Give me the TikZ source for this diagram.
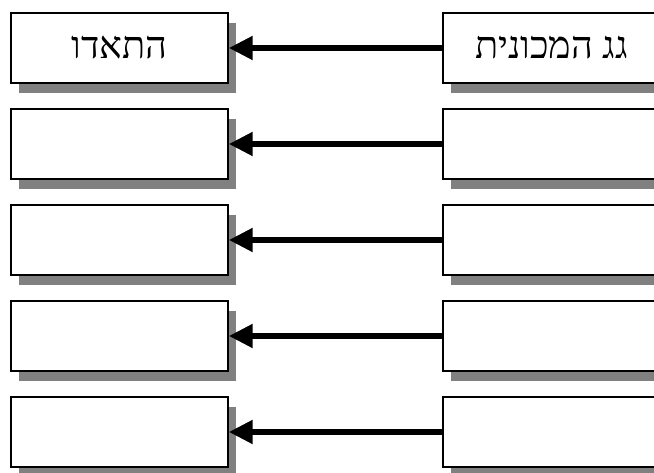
\documentclass[tikz,border=0pt]{standalone}
\usepackage{fontspec}
\setmainfont{Liberation Serif}
\newfontfamily\hebfont[Script=Hebrew]{Liberation Serif}
\TeXXeTstate=1
\usetikzlibrary{shapes,calc,shadows,arrows.meta}

\begin{document}
\begin{tikzpicture}[x=0.75pt,y=-0.75pt]
			\tikzstyle{wbox}=[rectangle, draw, line width=1.1pt, fill=white, minimum width=162.75pt, minimum height=52.5pt, inner sep=0pt, font=\hebfont\fontsize{28.5}{32}\selectfont, drop shadow={shadow xshift=6pt, shadow yshift=-7.5pt, fill=gray, opacity=1}]
			\tikzstyle{link}=[line width=5.2pt, -{Triangle[length=18pt,width=17pt]}]
			\useasboundingbox (0,0) rectangle (654,473);
			\clip (0,0) rectangle (654,473);
			\node[wbox] (l1) at (119.5,48) {\beginR התאדו\endR};
			\node[wbox] (l2) at (119.5,144) {};
			\node[wbox] (l3) at (119.5,240) {};
			\node[wbox] (l4) at (119.5,336) {};
			\node[wbox] (l5) at (119.5,432) {};
			\node[wbox] (r1) at (551.5,48) {\beginR גג המכונית\endR};
			\node[wbox] (r2) at (551.5,144) {};
			\node[wbox] (r3) at (551.5,240) {};
			\node[wbox] (r4) at (551.5,336) {};
			\node[wbox] (r5) at (551.5,432) {};
			\draw[link] (r1.west) -- (l1.east);
			\draw[link] (r2.west) -- (l2.east);
			\draw[link] (r3.west) -- (l3.east);
			\draw[link] (r4.west) -- (l4.east);
			\draw[link] (r5.west) -- (l5.east);
		\end{tikzpicture}
\end{document}
